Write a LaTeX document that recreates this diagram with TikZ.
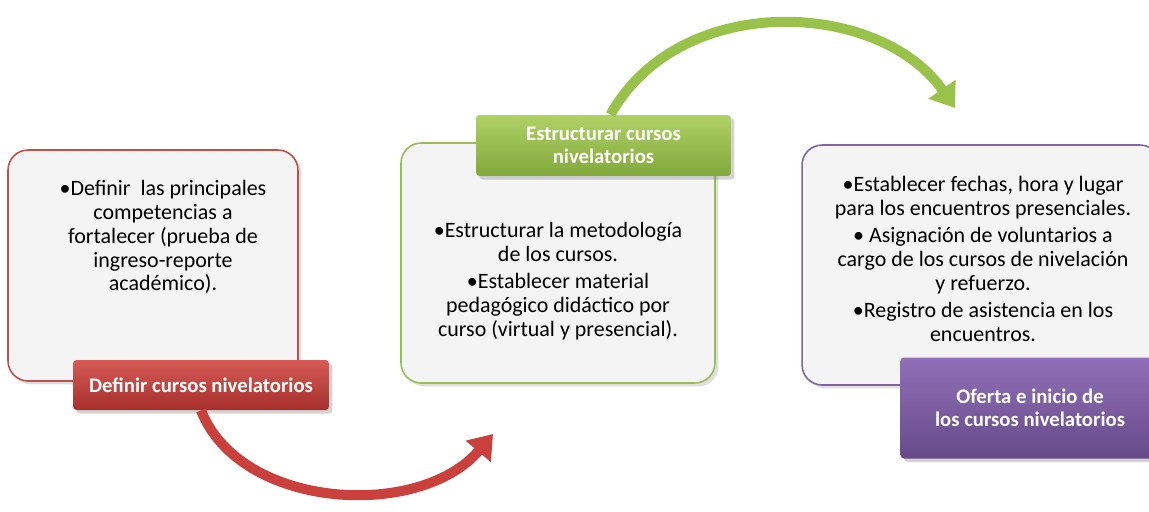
\documentclass[tikz,border=0pt]{standalone}
\usepackage{fontspec}
\setmainfont{Carlito}
\usetikzlibrary{arrows.meta,shadows}

\definecolor{boxfill}{HTML}{F4F4F4}
\definecolor{redline}{HTML}{C0504D}
\definecolor{greenline}{HTML}{9BBB59}
\definecolor{purpleline}{HTML}{8064A2}
\definecolor{redtop}{HTML}{D65B57}
\definecolor{redbot}{HTML}{A62F2C}
\definecolor{greentop}{HTML}{AFD166}
\definecolor{greenbot}{HTML}{83A83C}
\definecolor{purpletop}{HTML}{9070B8}
\definecolor{purplebot}{HTML}{664A88}
\definecolor{redarrow}{HTML}{C9403D}
\definecolor{greenarrow}{HTML}{99C24B}

\begin{document}
\begin{tikzpicture}[x=0.02cm, y=-0.02cm,
                    bodybox/.style={rectangle, rounded corners=0.4cm, line width=0.9pt, fill=boxfill,
                                    drop shadow={shadow xshift=2pt, shadow yshift=-2pt, opacity=0.25}},
                    bodytext/.style={align=center, inner sep=0pt, font=\fontsize{12.5}{13.6}\selectfont},
                    tagbox/.style={rectangle, rounded corners=2pt, text=white, align=center,
                                   font=\bfseries\fontsize{11.8}{13}\selectfont,
                                   drop shadow={shadow xshift=2pt, shadow yshift=-2pt, opacity=0.35}},
                    bigarrow/.style={line width=5.7pt, -{Triangle[width=18pt, length=13pt]}}
                   ]
\useasboundingbox (0,0) rectangle (1149,511);
%Boxes
\node[bodybox, draw=redline, minimum width=5.8cm, minimum height=4.62cm] (box1) at (153,265.5) {};
\node[bodybox, draw=greenline, minimum width=6.28cm, minimum height=4.8cm] (box2) at (558,263) {};
\node[bodybox, draw=purpleline, minimum width=7.16cm, minimum height=4.8cm] (box3) at (981,265) {};
%Texts
\node[bodytext] (txt1) at (163,237) {•Definir\ \ las principales\\ competencias a\\ fortalecer (prueba de\\ ingreso-reporte\\ académico).};
\node[bodytext] (txt2) at (558,281) {•Estructurar la metodología\\ de los cursos.\\[2pt] •Establecer material\\ pedagógico didáctico por\\ curso (virtual y presencial).};
\node[bodytext] (txt3) at (983,259) {•Establecer fechas, hora y lugar\\ para los encuentros presenciales.\\[2pt] • Asignación de voluntarios a\\ cargo de los cursos de nivelación\\ y refuerzo.\\[2pt] •Registro de asistencia en los\\ encuentros.};
%Labels
\node[tagbox, top color=redtop, bottom color=redbot, minimum width=5.12cm, minimum height=1.0cm] (tag1) at (201,385) {Definir cursos nivelatorios};
\node[tagbox, top color=greentop, bottom color=greenbot, minimum width=5.1cm, minimum height=1.22cm] (tag2) at (603.5,145.5) {Estructurar cursos\\ nivelatorios};
\node[tagbox, top color=purpletop, bottom color=purplebot, minimum width=5.18cm, minimum height=2.02cm] (tag3) at (1030,408) {Oferta e inicio de\\ los cursos nivelatorios};
% %Arrows
\coordinate (end1) at (493,434);
\coordinate (end2) at (955,108);
\draw[bigarrow, redarrow] (tag1.south) .. controls (240,510) and (420,520) .. (end1);
\draw[bigarrow, greenarrow] ([xshift=4pt]tag2.north) .. controls (680,-10) and (880,0) .. (end2);
\end{tikzpicture}
\end{document}
